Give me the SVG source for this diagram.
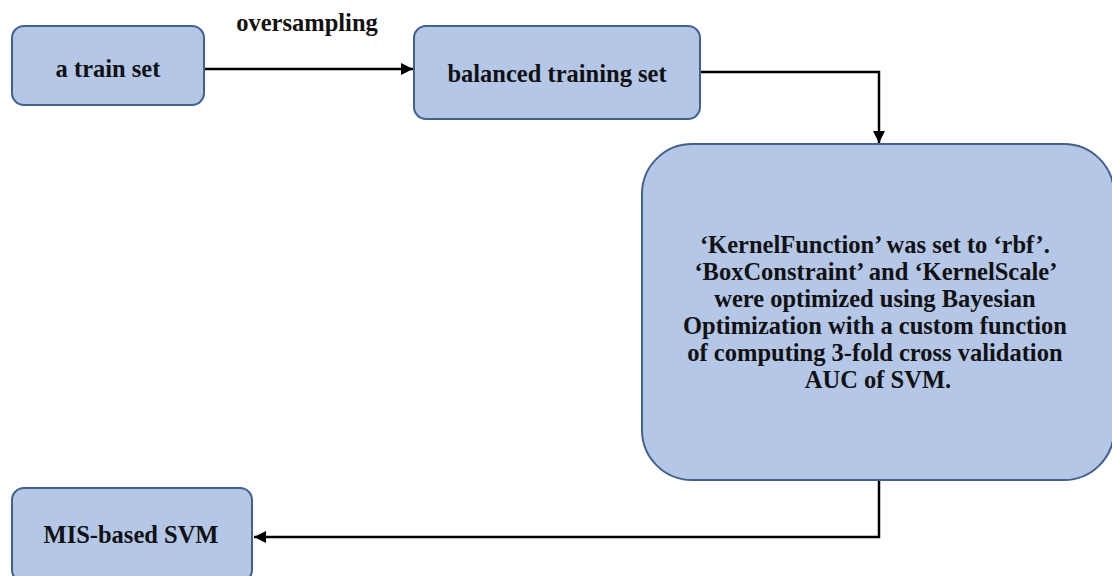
<svg xmlns="http://www.w3.org/2000/svg" width="1112" height="576" viewBox="0 0 1112 576">
<defs>
<style>
.node{fill:#b4c7e7;stroke:#41618f;stroke-width:2}
.t{font-family:"Liberation Serif","Times New Roman",serif;font-weight:bold;font-size:24.5px;fill:#111;text-anchor:middle}
.c{fill:none;stroke:#000;stroke-width:2.5}
</style>
<marker id="ah" viewBox="0 0 12 12" refX="12" refY="6" markerWidth="12" markerHeight="12" markerUnits="userSpaceOnUse" orient="auto">
<path d="M0,0 L12,6 L0,12 Z" fill="#000"/>
</marker>
</defs>
<rect width="1112" height="576" fill="#fff"/>
<g id="connectors">
<path class="c" d="M204,69 H413" marker-end="url(#ah)"/>
<path class="c" d="M700,72 H879 V143" marker-end="url(#ah)"/>
<path class="c" d="M879,480 V537 H254" marker-end="url(#ah)"/>
<text class="t" x="307" y="31">oversampling</text>
</g>
<g id="n1">
<rect class="node" x="12" y="26" width="192" height="79" rx="12"/>
<text class="t" x="108" y="77">a train set</text>
</g>
<g id="n2">
<rect class="node" x="414" y="26" width="286" height="93" rx="12"/>
<text class="t" x="557" y="82">balanced training set</text>
</g>
<g id="n3">
<rect class="node" x="642" y="144" width="472" height="336" rx="50"/>
<text class="t" x="878">
<tspan x="878" y="253">‘KernelFunction’ was set to ‘rbf’.</tspan>
<tspan x="878" y="280">‘BoxConstraint’ and ‘KernelScale’</tspan>
<tspan x="878" y="307">were optimized using Bayesian</tspan>
<tspan x="878" y="334">Optimization with a custom function</tspan>
<tspan x="878" y="361">of computing 3-fold cross validation</tspan>
<tspan x="878" y="388">AUC of SVM.</tspan>
</text>
</g>
<g id="n4">
<rect class="node" x="12" y="488" width="240" height="94" rx="12"/>
<text class="t" x="131" y="543">MIS-based SVM</text>
</g>
</svg>
